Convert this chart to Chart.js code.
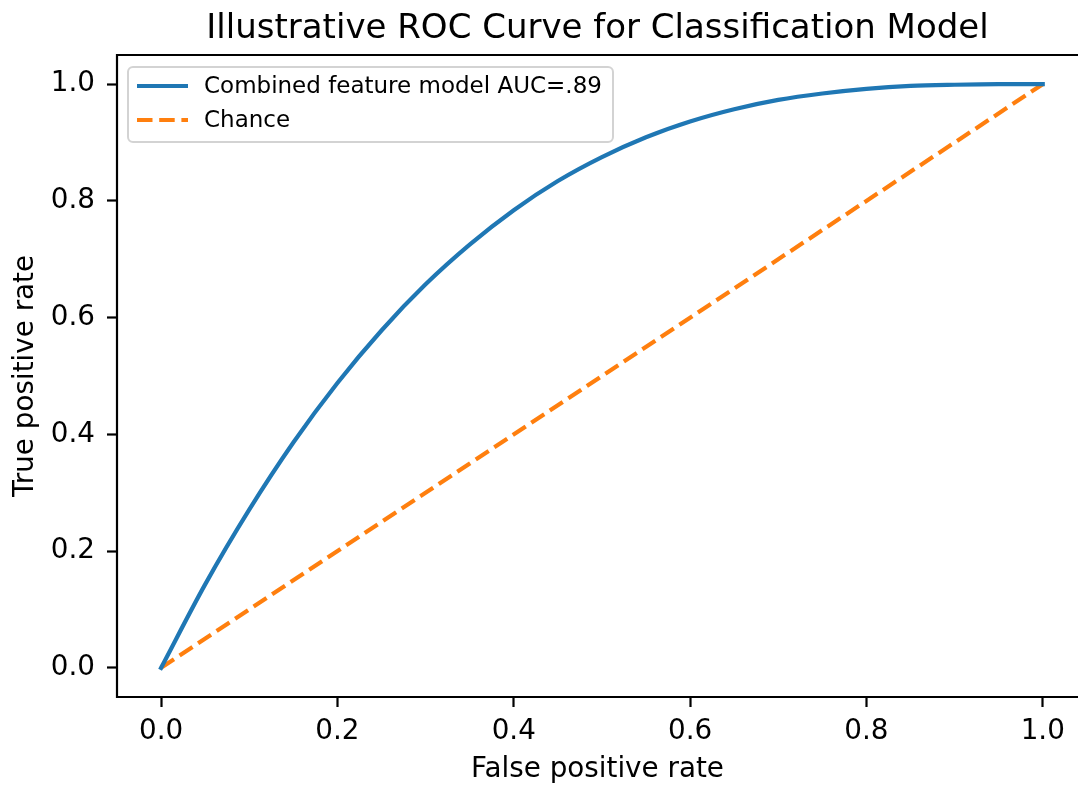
<!DOCTYPE html>
<html>
<head>
<meta charset="utf-8">
<script src="https://cdn.jsdelivr.net/npm/chart.js@4.4.1/dist/chart.umd.min.js"></script>
<style>
  html, body { margin: 0; padding: 0; background: #ffffff; overflow: hidden; }
  #wrap { width: 1078px; height: 787px; }
</style>
</head>
<body>
<div id="wrap"><canvas id="c" width="1078" height="787"></canvas></div>
<script>
// ---- data ----
const chartTitle = "Illustrative ROC Curve for Classification Model";
const xAxisTitle = "False positive rate";
const yAxisTitle = "True positive rate";
const modelLabel = "Combined feature model AUC=.89";
const chanceLabel = "Chance";

const modelFpr = [0, 0.05, 0.1, 0.15, 0.2, 0.25, 0.3, 0.35, 0.4, 0.45, 0.5,
                  0.55, 0.6, 0.65, 0.7, 0.75, 0.8, 0.85, 0.9, 0.95, 1.0];
const modelTpr = [0, 0.143, 0.271, 0.386, 0.488, 0.578, 0.657, 0.725, 0.784, 0.834, 0.875,
                  0.909, 0.936, 0.957, 0.973, 0.984, 0.992, 0.997, 0.999, 1.0, 1.0];

const chanceFpr = [0, 1];
const chanceTpr = [0, 1];

const xTickValues = [0, 0.2, 0.4, 0.6, 0.8, 1.0];
const yTickValues = [0, 0.2, 0.4, 0.6, 0.8, 1.0];

// ---- styling ----
const FONT = "'DejaVu Sans', 'Liberation Sans', sans-serif";
const BLUE = "#1f77b4";
const ORANGE = "#ff7f0e";

// axes frame: left, top and bottom spines (the right spine lies beyond the picture edge)
const framePlugin = {
  id: 'frame',
  afterDatasetsDraw(chart) {
    const a = chart.chartArea;
    const ctx = chart.ctx;
    ctx.save();
    ctx.strokeStyle = '#000';
    ctx.lineWidth = 2.2;
    ctx.lineCap = 'square';
    ctx.beginPath();
    ctx.moveTo(chart.width + 5, a.top);
    ctx.lineTo(a.left, a.top);
    ctx.lineTo(a.left, a.bottom);
    ctx.lineTo(chart.width + 5, a.bottom);
    ctx.stroke();
    ctx.restore();
  }
};

const insideLegend = {
  id: 'insideLegend',
  afterDraw(chart) {
    const ctx = chart.ctx;
    const a = chart.chartArea;
    const x0 = a.left + 11, y0 = a.top + 12, w = 485, h = 75;
    ctx.save();
    ctx.beginPath();
    ctx.roundRect(x0, y0, w, h, 5);
    ctx.fillStyle = 'rgba(255,255,255,0.8)';
    ctx.fill();
    ctx.strokeStyle = '#d3d3d3';
    ctx.lineWidth = 2;
    ctx.stroke();
    ctx.font = "23px " + FONT;
    ctx.textBaseline = 'middle';
    ctx.textAlign = 'left';
    chart.data.datasets.forEach((ds, i) => {
      const yy = y0 + 19 + i * 34;
      ctx.beginPath();
      ctx.setLineDash(ds.borderDash || []);
      ctx.lineWidth = ds.borderWidth;
      ctx.strokeStyle = ds.borderColor;
      ctx.lineCap = 'butt';
      ctx.moveTo(x0 + 9, yy);
      ctx.lineTo(x0 + 60, yy);
      ctx.stroke();
      ctx.setLineDash([]);
      ctx.fillStyle = '#000';
      ctx.fillText(ds.label, x0 + 76, yy + 1.5);
    });
    ctx.restore();
  }
};

const toPoints = (xs, ys) => xs.map((x, i) => ({ x: x, y: ys[i] }));

new Chart(document.getElementById('c'), {
  type: 'line',
  data: {
    datasets: [
      {
        label: modelLabel,
        data: toPoints(modelFpr, modelTpr),
        borderColor: BLUE,
        backgroundColor: BLUE,
        borderWidth: 4.2,
        pointRadius: 0,
        cubicInterpolationMode: 'monotone',
        borderCapStyle: 'square',
        borderJoinStyle: 'round',
        fill: false
      },
      {
        label: chanceLabel,
        data: toPoints(chanceFpr, chanceTpr),
        borderColor: ORANGE,
        backgroundColor: ORANGE,
        borderWidth: 4.2,
        borderDash: [15.5, 6.7],
        pointRadius: 0,
        fill: false
      }
    ]
  },
  options: {
    responsive: false,
    animation: false,
    layout: { padding: { left: 0, right: 0, top: 0, bottom: 0 } },
    plugins: {
      legend: { display: false },
      tooltip: { enabled: false },
      title: {
        display: true,
        text: chartTitle,
        fullSize: false,
        color: '#000',
        font: { family: FONT, size: 34, weight: 'normal', lineHeight: 1.2 },
        padding: { top: 8.5, bottom: 5.7 }
      }
    },
    scales: {
      x: {
        type: 'linear',
        min: -0.05,
        max: 1.04,
        afterFit(s) { s.height = 90; },
        afterBuildTicks(s) { s.ticks = xTickValues.map(v => ({ value: v })); },
        border: { display: false },
        grid: { display: true, drawOnChartArea: false, drawTicks: true, tickLength: 10, tickWidth: 2.2, tickColor: '#000' },
        ticks: {
          color: '#000',
          padding: 8.5,
          maxRotation: 0,
          font: { family: FONT, size: 27.8 },
          callback: v => Number(v).toFixed(1)
        },
        title: {
          display: true,
          text: xAxisTitle,
          color: '#000',
          font: { family: FONT, size: 27.8, lineHeight: 1.2 },
          padding: { top: 0, bottom: 1 }
        }
      },
      y: {
        type: 'linear',
        min: -0.05,
        max: 1.05,
        afterFit(s) { s.width = 117; },
        afterBuildTicks(s) { s.ticks = yTickValues.map(v => ({ value: v })); },
        border: { display: false },
        grid: { display: true, drawOnChartArea: false, drawTicks: true, tickLength: 10, tickWidth: 2.2, tickColor: '#000' },
        ticks: {
          color: '#000',
          padding: 12,
          font: { family: FONT, size: 27.8 },
          callback: v => Number(v).toFixed(1)
        },
        title: {
          display: true,
          text: yAxisTitle,
          color: '#000',
          font: { family: FONT, size: 27.8, lineHeight: 1.2 },
          padding: { top: 9, bottom: 0 }
        }
      }
    }
  },
  plugins: [framePlugin, insideLegend]
});
</script>
</body>
</html>
